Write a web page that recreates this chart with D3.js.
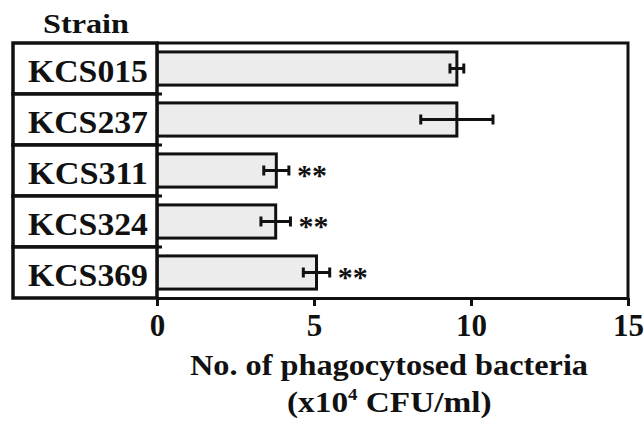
<!DOCTYPE html>
<meta charset="utf-8">
<script src="https://d3js.org/d3.v7.min.js"></script>
<body style="margin:0;background:#fff">
<svg id="chart" width="644" height="421"></svg>
<script>
  // data
  var strains = ["KCS015", "KCS237", "KCS311", "KCS324", "KCS369"];
  var means = [9.55, 9.55, 3.8, 3.78, 5.08];
  var errors = [0.22, 1.15, 0.4, 0.47, 0.42];
  var marks = ["", "", "**", "**", "**"];
  var ticks = [0, 5, 10, 15];

  var svg = d3.select("#chart");
  var font = "'Liberation Serif', 'Times New Roman', serif";

  var x = d3.scaleLinear().domain([0, 15]).range([157, 628]);
  var y = d3.scaleBand().domain(strains).range([43, 298])
      .paddingInner(0.35).paddingOuter(0.175);

  // bars
  svg.append("g").selectAll("rect")
      .data(strains)
      .enter().append("rect")
      .attr("x", x(0))
      .attr("y", function(d) { return y(d); })
      .attr("width", function(d, i) { return x(means[i]) - x(0); })
      .attr("height", y.bandwidth())
      .attr("fill", "#ececec")
      .attr("stroke", "#111")
      .attr("stroke-width", 3);

  // error bars
  var eb = svg.append("g").attr("stroke", "#111").attr("stroke-width", 3);
  strains.forEach(function(s, i) {
    var cy = y(s) + y.bandwidth() / 2;
    eb.append("line")
      .attr("x1", x(means[i] - errors[i])).attr("x2", x(means[i] + errors[i]))
      .attr("y1", cy).attr("y2", cy);
    [means[i] - errors[i], means[i] + errors[i]].forEach(function(v) {
      eb.append("line")
        .attr("x1", x(v)).attr("x2", x(v))
        .attr("y1", cy - 5).attr("y2", cy + 5);
    });
    if (marks[i]) {
      svg.append("text")
        .attr("x", x(means[i] + errors[i]) + 8)
        .attr("y", cy + 14)
        .style("font-family", font)
        .style("font-weight", "bold")
        .style("font-size", "30px")
        .attr("fill", "#111")
        .text(marks[i]);
    }
  });

  // plot frame
  svg.append("path")
    .attr("d", "M" + x(0) + ",43H" + x(15) + "V298")
    .attr("fill", "none").attr("stroke", "#111").attr("stroke-width", 3);

  // x axis
  var xAxis = svg.append("g")
      .attr("transform", "translate(0,298)")
      .call(d3.axisBottom(x).tickValues(ticks).tickSize(8).tickSizeOuter(0));
  xAxis.select(".domain").attr("stroke", "#111").attr("stroke-width", 3);
  xAxis.selectAll(".tick line").attr("stroke", "#111").attr("stroke-width", 3);
  xAxis.selectAll(".tick text")
      .attr("y", 38)
      .attr("dy", 0)
      .style("font-family", font)
      .style("font-weight", "bold")
      .style("font-size", "31px")
      .attr("fill", "#111");

  // strain label boxes
  var lab = svg.append("g");
  lab.selectAll("rect")
      .data(strains)
      .enter().append("rect")
      .attr("x", 13)
      .attr("y", function(d) { return y(d) - y.step() * y.paddingInner() / 2; })
      .attr("width", x(0) - 13)
      .attr("height", y.step())
      .attr("fill", "#fff")
      .attr("stroke", "#111")
      .attr("stroke-width", 3.5);
  lab.selectAll("text")
      .data(strains)
      .enter().append("text")
      .attr("x", 28)
      .attr("y", function(d) { return y(d) + y.bandwidth() / 2 + 13; })
      .style("font-family", font)
      .style("font-weight", "bold")
      .style("font-size", "31px")
      .attr("fill", "#111")
      .attr("textLength", 120)
      .attr("lengthAdjust", "spacingAndGlyphs")
      .text(function(d) { return d; });
  // small nubs on the zero line
  lab.selectAll("line")
      .data(strains.slice(1))
      .enter().append("line")
      .attr("x1", x(0)).attr("x2", x(0) + 5)
      .attr("y1", function(d) { return y(d) - y.step() * y.paddingInner() / 2; })
      .attr("y2", function(d) { return y(d) - y.step() * y.paddingInner() / 2; })
      .attr("stroke", "#111").attr("stroke-width", 3);

  svg.append("text")
    .attr("x", 43).attr("y", 33)
    .style("font-family", font).style("font-weight", "bold")
    .style("font-size", "27px").attr("fill", "#111")
    .attr("textLength", 86).attr("lengthAdjust", "spacingAndGlyphs")
    .text("Strain");

  // axis title
  svg.append("text")
    .attr("x", 190).attr("y", 375)
    .style("font-family", font).style("font-weight", "bold")
    .style("font-size", "30px").attr("fill", "#111")
    .attr("textLength", 398).attr("lengthAdjust", "spacingAndGlyphs")
    .text("No. of phagocytosed bacteria");
  var t2 = svg.append("text")
    .attr("transform", "translate(287,412) scale(1.11,1)")
    .style("font-family", font).style("font-weight", "bold")
    .style("font-size", "30px").attr("fill", "#111");
  t2.append("tspan").text("(x10");
  t2.append("tspan").style("font-size", "17px").attr("dy", -12).text("4");
  t2.append("tspan").attr("dy", 12).text(" CFU/ml)");
</script>
</body>
